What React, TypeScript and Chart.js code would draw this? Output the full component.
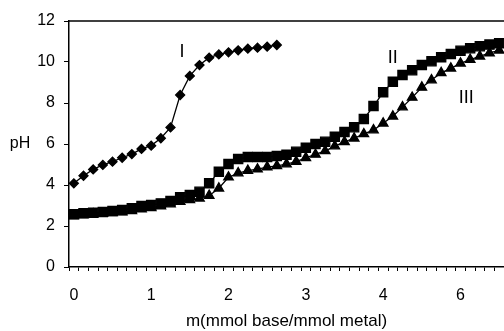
import React, { useEffect, useRef } from "react";
import { Chart, registerables } from "chart.js";

Chart.register(...registerables);

const xLabels = [
  "0", "", "", "", "", "", "", "",
  "1", "", "", "", "", "", "", "",
  "2", "", "", "", "", "", "", "",
  "3", "", "", "", "", "", "", "",
  "4", "", "", "", "", "", "", "",
  "6", "", "", "", "",
];

const seriesI = [4.08, 4.45, 4.76, 4.98, 5.14, 5.33, 5.51, 5.76, 5.92, 6.28, 6.81, 8.39, 9.32, 9.85, 10.21, 10.37, 10.47, 10.57, 10.65, 10.7, 10.75, 10.83];

const seriesII = [
  2.57, 2.62, 2.65, 2.68, 2.73, 2.78, 2.86, 2.98, 3.02, 3.1,
  3.22, 3.4, 3.51, 3.67, 4.08, 4.65, 5.02, 5.27, 5.36, 5.36,
  5.37, 5.41, 5.48, 5.62, 5.82, 6.0, 6.11, 6.35, 6.58, 6.82,
  7.22, 7.85, 8.52, 9.04, 9.37, 9.6, 9.85, 10.04, 10.23, 10.39,
  10.55, 10.67, 10.77, 10.85, 10.92,
];

const seriesIII = [
  2.5, 2.55, 2.58, 2.6, 2.64, 2.68, 2.74, 2.82, 2.88, 2.97,
  3.07, 3.19, 3.28, 3.35, 3.48, 3.84, 4.38, 4.58, 4.7, 4.77,
  4.87, 4.93, 5.02, 5.14, 5.33, 5.49, 5.66, 5.9, 6.11, 6.28,
  6.49, 6.68, 7.01, 7.35, 7.8, 8.27, 8.76, 9.12, 9.47, 9.69,
  9.94, 10.12, 10.28, 10.44, 10.57,
];

const curveLabels = ["I", "II", "III"];
const curveLabelX = [11.2, 33.0, 40.6];
const curveLabelY = [10.5, 10.18, 8.23];

const yTitle = "pH";
const xTitle = "m(mmol base/mmol metal)";

const FONT = "'Liberation Sans', Arial, sans-serif";

const annotate = {
  id: "annotate",
  afterDraw(chart: any) {
    const { ctx, chartArea, scales } = chart;
    ctx.save();
    ctx.strokeStyle = "#000";
    ctx.lineWidth = 1.5;
    ctx.beginPath();
    ctx.moveTo(chartArea.left, chartArea.top);
    ctx.lineTo(chartArea.right, chartArea.top);
    ctx.stroke();
    ctx.fillStyle = "#000";
    ctx.textAlign = "center";
    ctx.textBaseline = "middle";
    ctx.font = `18px ${FONT}`;
    curveLabels.forEach((t, i) => {
      const x = scales.x.getPixelForValue(curveLabelX[i]);
      const y = scales.y.getPixelForValue(curveLabelY[i]);
      ctx.fillText(t, x, y);
    });
    ctx.font = `16px ${FONT}`;
    ctx.fillText(yTitle, 20, scales.y.getPixelForValue(6));
    ctx.restore();
  },
};

export default function App() {
  const ref = useRef<HTMLCanvasElement>(null);
  useEffect(() => {
    if (!ref.current) return;
    const common = {
      borderColor: "#000",
      backgroundColor: "#000",
      pointBorderColor: "#000",
      pointBackgroundColor: "#000",
      borderWidth: 1.3,
      tension: 0,
      fill: false,
    };
    const chart = new Chart(ref.current, {
      type: "line",
      data: {
        labels: xLabels,
        datasets: [
          { ...common, label: "I", data: seriesI, pointStyle: "rectRot", pointRadius: 4.5 },
          { ...common, label: "II", data: seriesII, pointStyle: "rect", pointRadius: 6.5 },
          { ...common, label: "III", data: seriesIII, pointStyle: "triangle", pointRadius: 5.5 },
        ],
      },
      options: {
        animation: false,
        responsive: false,
        layout: { autoPadding: false, padding: { top: 21, right: 0, bottom: 0, left: 0 } },
        plugins: { legend: { display: false }, tooltip: { enabled: false } },
        scales: {
          x: {
            type: "category",
            offset: true,
            afterFit: (s: any) => { s.height = 64; s.paddingLeft = 0; s.paddingRight = 0; },
            grid: { drawOnChartArea: false, drawTicks: true, tickLength: 4, color: "#000", lineWidth: 1, offset: true },
            border: { color: "#000", width: 1.5 },
            ticks: { autoSkip: false, maxRotation: 0, color: "#000", padding: 15, font: { family: FONT, size: 16 } },
            title: { display: true, text: xTitle, color: "#000", padding: { top: 0, bottom: -1 }, font: { family: FONT, size: 17 } },
          },
          y: {
            min: 0,
            max: 12,
            afterFit: (s: any) => { s.width = 69; },
            grid: { drawOnChartArea: false, drawTicks: true, tickLength: 5, color: "#000", lineWidth: 1 },
            border: { color: "#000", width: 1.5 },
            ticks: { stepSize: 2, color: "#000", padding: 9, font: { family: FONT, size: 16 } },
          },
        },
      },
      plugins: [annotate],
    });
    return () => chart.destroy();
  }, []);
  return (
    <div style={{ position: "absolute", left: 0, top: 0, width: 504, height: 331, background: "#fff" }}>
      <canvas ref={ref} width={504} height={331} />
    </div>
  );
}
